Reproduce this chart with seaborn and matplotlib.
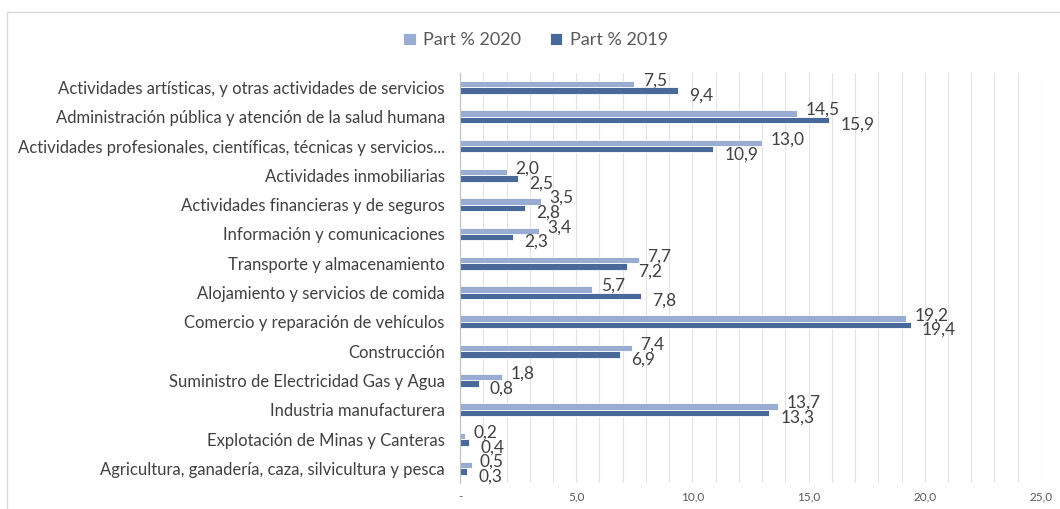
import numpy as np
import pandas as pd
import seaborn as sns
from matplotlib import pyplot as plt
from matplotlib.patches import Rectangle

sns.set_style('white')
plt.rcParams['font.family'] = ['Lato', 'DejaVu Sans']

sectores = [
    'Actividades artísticas, y otras actividades de servicios',
    'Administración pública y atención de la salud humana',
    'Actividades profesionales, científicas, técnicas y servicios...',
    'Actividades inmobiliarias',
    'Actividades financieras y de seguros',
    'Información y comunicaciones',
    'Transporte y almacenamiento',
    'Alojamiento y servicios de comida',
    'Comercio y reparación de vehículos',
    'Construcción',
    'Suministro de Electricidad Gas y Agua',
    'Industria manufacturera',
    'Explotación de Minas y Canteras',
    'Agricultura, ganadería, caza, silvicultura y pesca',
]
part_2020 = [7.5, 14.5, 13.0, 2.0, 3.5, 3.4, 7.7, 5.7, 19.2, 7.4, 1.8, 13.7, 0.2, 0.5]
part_2019 = [9.4, 15.9, 10.9, 2.5, 2.8, 2.3, 7.2, 7.8, 19.4, 6.9, 0.8, 13.3, 0.4, 0.3]
series = ['Part % 2020', 'Part % 2019']
x_ticks = [0, 5, 10, 15, 20, 25]
x_labels = ['-', '5,0', '10,0', '15,0', '20,0', '25,0']

df = pd.DataFrame({
    'Sector': sectores * 2,
    'Serie': [series[0]] * len(sectores) + [series[1]] * len(sectores),
    'Valor': part_2020 + part_2019,
})

fig = plt.figure(figsize=(10.6, 5.09), dpi=100)
ax = fig.add_axes([0.434, 0.051, 0.548, 0.806])

sns.barplot(data=df, y='Sector', x='Valor', hue='Serie', hue_order=series,
            palette=['#8FAADC', '#3A66A8'], orient='h', width=0.44,
            edgecolor='white', linewidth=0.6, ax=ax)

# data labels: 2020 a bit above the bar end, 2019 a bit below
for cont, vals, dx, dy in zip(ax.containers, [part_2020, part_2019], [6, 8], [2.5, -3.5]):
    for bar, v in zip(cont, vals):
        ax.annotate(f'{v:.1f}'.replace('.', ','),
                    (bar.get_width(), bar.get_y() + bar.get_height() / 2),
                    xytext=(dx, dy), textcoords='offset points',
                    ha='left', va='center', fontsize=12.5, color='#404040')

ax.set_xlim(0, 25)
ax.set_xticks(x_ticks)
ax.set_xticklabels(x_labels)
ax.set_xticks(np.arange(0, 26, 1), minor=True)
ax.grid(which='both', axis='x', color='#E3E3E3', lw=0.8)
ax.set_axisbelow(True)
ax.tick_params(axis='x', which='both', length=0, labelsize=8.5, labelcolor='#595959', pad=6)
ax.tick_params(axis='y', which='major', length=0, labelsize=12, labelcolor='#404040', pad=11)
ax.set_yticks(np.arange(-0.5, len(sectores), 1), minor=True)
ax.tick_params(axis='y', which='minor', length=5, color='#BFBFBF', width=0.8)
ax.set_xlabel('')
ax.set_ylabel('')
for s in ['top', 'right', 'bottom']:
    ax.spines[s].set_visible(False)
ax.spines['left'].set_color('#BFBFBF')
ax.spines['left'].set_linewidth(0.8)

handles, labels = ax.get_legend_handles_labels()
ax.legend(handles, labels, loc='center', bbox_to_anchor=(0.505, 0.921),
          bbox_transform=fig.transFigure, ncol=2, frameon=False,
          handlelength=0.7, handleheight=0.7, handletextpad=0.4,
          columnspacing=1.6, fontsize=13, labelcolor='#595959')

# chart area border
fig.add_artist(Rectangle((7 / 1060, -0.1), 1.2, 1.1 - 12 / 509,
                         transform=fig.transFigure, fill=False,
                         edgecolor='#D9D9D9', lw=1))

fig.savefig('out.png', dpi=100)
